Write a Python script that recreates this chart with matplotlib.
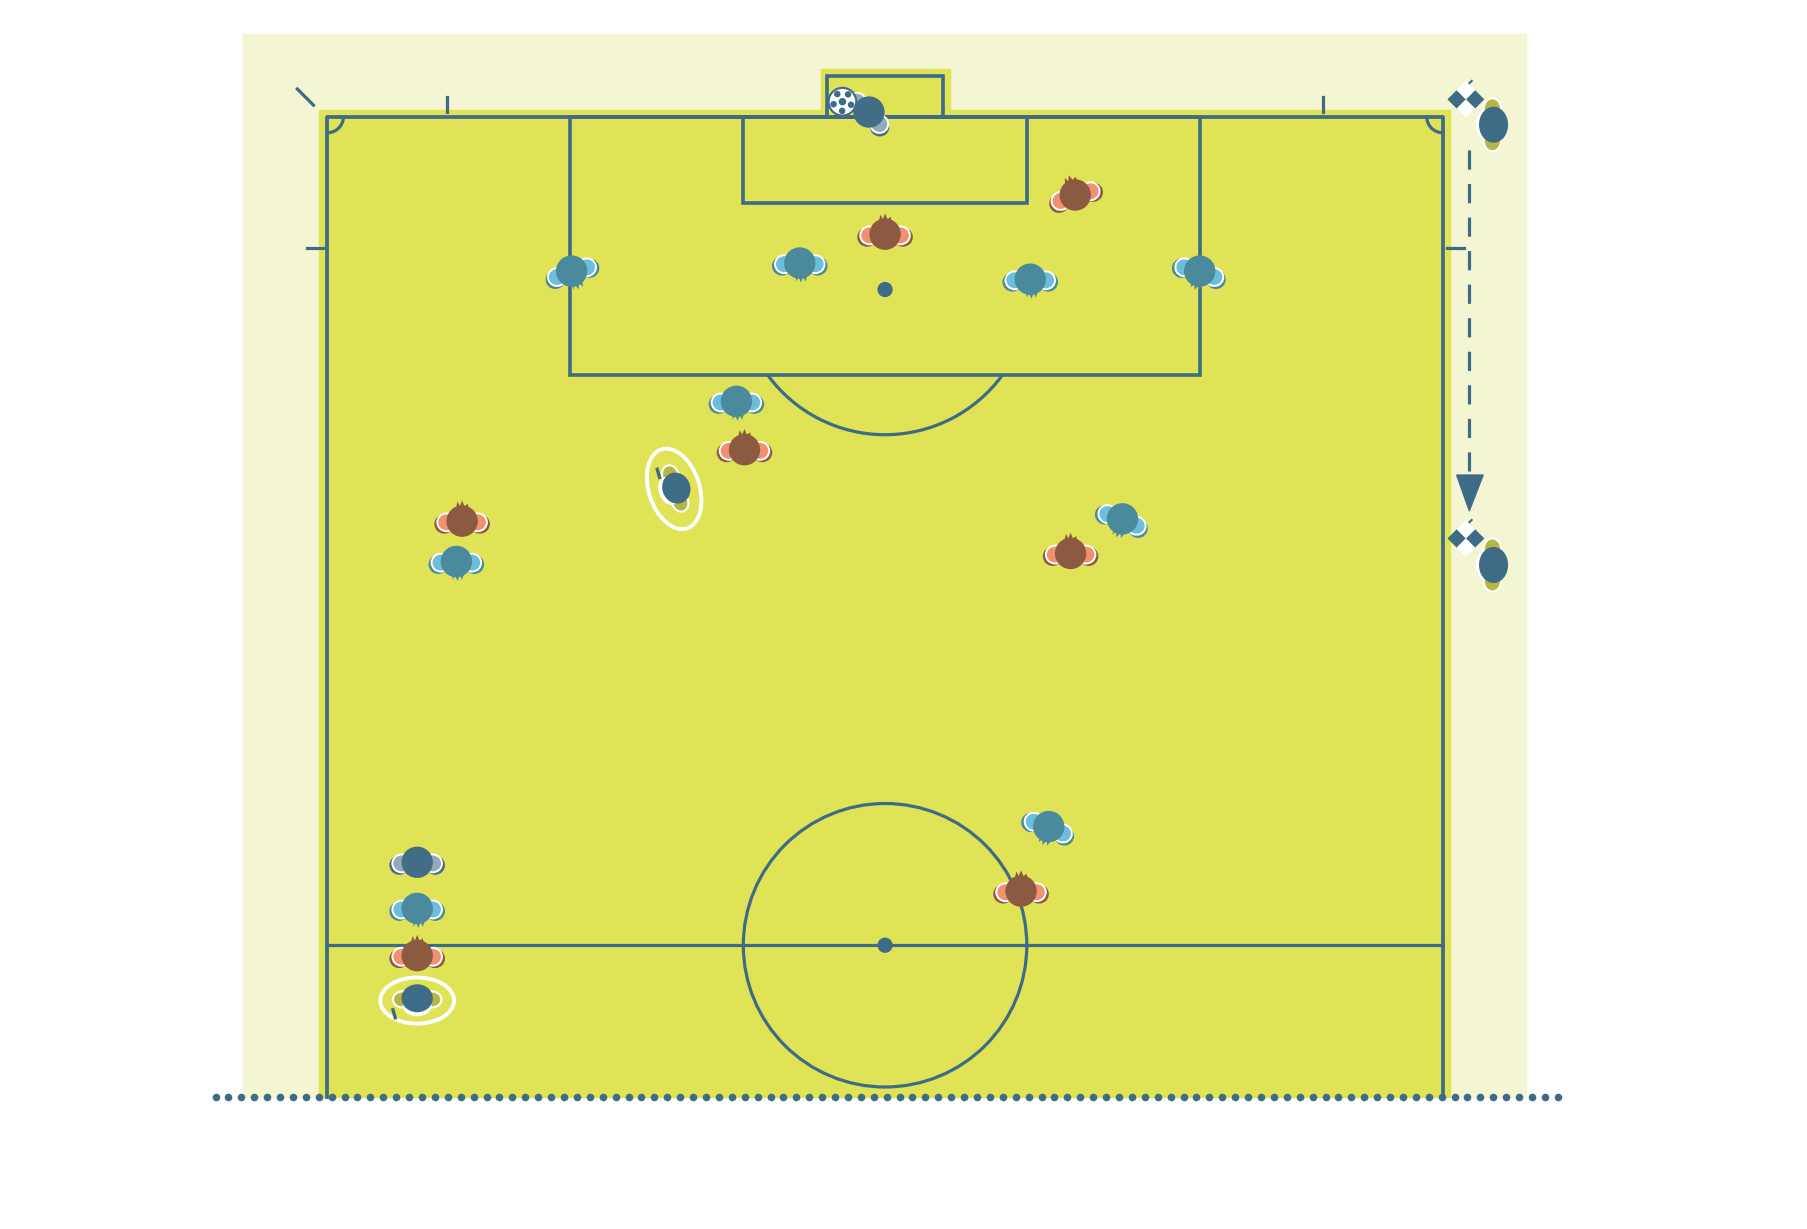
import numpy as np
import matplotlib
matplotlib.use("Agg")
import matplotlib.pyplot as plt
from matplotlib.patches import Rectangle, Circle, Ellipse, Arc, Polygon

# canvas units (image is 1568 x 1066 in these units, y grows downwards)
W, H = 1568, 1066

# colours
bg_light = "#f3f5d3"
grass = "#e0e356"
line_c = "#3e6b86"
blue_head, blue_sh = "#4a8a9c", "#6cbedb"
brown_head, brown_sh = "#8b5a41", "#f1916f"
gk_head, gk_sh = "#436d86", "#93aabb"
ref_sh = "#b5b646"

# pitch geometry
outer_area = (211, 29, 1324, 952)
grass_area = (277, 95, 1258, 952)
goal_grass = (712, 60, 824, 100)
touch_x = [284, 1252]
goal_line_y = 101
bottom_y = 952
halfway_y = 820
centre = (768, 820)
circle_r = 123
pen_box = (495, 101, 1041, 325)
goal_box = (645, 101, 891, 176)
goal_frame = (718, 66, 818, 101)
pen_spot = (768, 251)

# players: x, y, tilt in degrees
blue_x = [496, 694, 894, 1041, 639, 974, 396, 910, 362]
blue_y = [235, 228, 242, 235, 348, 450, 487, 717, 788]
blue_tilt = [-18, 0, 0, 18, 0, 22, 0, 22, 0]

brown_x = [933, 768, 646, 401, 929, 886, 362]
brown_y = [169, 203, 390, 452, 480, 773, 829]
brown_tilt = [-18, 0, 0, 0, 0, 0, 0]

gk_x = [754, 362]
gk_y = [97, 748]
gk_tilt = [45, 0]

ref_x = [585, 362, 1294, 1294]
ref_y = [424, 868, 108, 490]
ref_tilt = [70, 0, 90, 90]
ref_ring = [True, True, False, False]

flag_x = [1272, 1272]
flag_y = [86, 467]
ball = (731, 88)

fig = plt.figure(figsize=(18.07, 12.29), dpi=100)
ax = fig.add_axes([0, 0, 1, 1])
ax.set_xlim(0, W)
ax.set_ylim(H, 0)
ax.set_aspect("equal")
ax.axis("off")


def rect(box, **kw):
    x0, y0, x1, y1 = box
    return Rectangle((x0, y0), x1 - x0, y1 - y0, **kw)


def rot(x, y, dx, dy, a):
    t = np.radians(a)
    return x + dx * np.cos(t) - dy * np.sin(t), y + dx * np.sin(t) + dy * np.cos(t)


lw = 2.3
ax.add_patch(rect(outer_area, color=bg_light, zorder=0))
ax.add_patch(rect(grass_area, color=grass, zorder=1))
ax.add_patch(rect(goal_grass, color=grass, zorder=1))

# pitch markings
ax.plot([touch_x[0], touch_x[0], touch_x[1], touch_x[1]],
        [bottom_y, goal_line_y, goal_line_y, bottom_y], color=line_c, lw=lw + 0.4, zorder=2)
ax.plot(touch_x, [halfway_y, halfway_y], color=line_c, lw=lw, zorder=2)
for box in [pen_box, goal_box, goal_frame]:
    ax.add_patch(rect(box, fill=False, ec=line_c, lw=lw + 0.3, zorder=2))
ax.add_patch(Circle(centre, circle_r, fill=False, ec=line_c, lw=lw, zorder=2))
ax.add_patch(Circle(centre, 6, color=line_c, zorder=2))
ax.add_patch(Circle(pen_spot, 6, color=line_c, zorder=2))
ax.add_patch(Arc(pen_spot, 2 * 126, 2 * 126, theta1=36, theta2=144, color=line_c, lw=lw, zorder=2))
ax.add_patch(Arc((touch_x[0], goal_line_y), 28, 28, theta1=0, theta2=90, color=line_c, lw=lw, zorder=2))
ax.add_patch(Arc((touch_x[1], goal_line_y), 28, 28, theta1=90, theta2=180, color=line_c, lw=lw, zorder=2))

# small marks outside the pitch
ax.plot([388, 388], [84, 97], color=line_c, lw=lw, zorder=2)
ax.plot([1148, 1148], [84, 97], color=line_c, lw=lw, zorder=2)
ax.plot([266, 280], [215, 215], color=line_c, lw=lw, zorder=2)
ax.plot([1256, 1270], [215, 215], color=line_c, lw=lw, zorder=2)
ax.plot([258, 272], [77, 91], color=line_c, lw=lw, zorder=2)

# dotted line along the bottom
dots = np.arange(187, 1352, 11.2)
ax.scatter(dots, np.full(len(dots), bottom_y), s=30, color=line_c, lw=0, zorder=3)

# assistant referee run
ax.plot([1275, 1275], [130, 412], color=line_c, lw=lw, ls=(0, (6, 4.5)), zorder=2)
ax.add_patch(Polygon([(1264, 412), (1287, 412), (1275, 443)], color=line_c, zorder=2))

# corner-style flags
for fx, fy in zip(flag_x, flag_y):
    ax.plot([fx + 1, fx + 5], [fy - 12, fy - 16], color=line_c, lw=1.5, zorder=3)
    for cx, cy, c in [(-8, 0, line_c), (8, 0, line_c), (0, -8, "white"), (0, 8, "white")]:
        ax.add_patch(Polygon([(fx + cx - 8, fy + cy), (fx + cx, fy + cy - 8),
                              (fx + cx + 8, fy + cy), (fx + cx, fy + cy + 8)], color=c, lw=0, zorder=3))


def player(x, y, tilt, head, sh, hair=None, head_r=13):
    for side in [-1, 1]:
        sx, sy = rot(x, y, side * 13.5, 1, tilt)
        shx, shy = rot(x, y, side * 15.5, 2.5, tilt)
        ax.add_patch(Ellipse((shx, shy), 16, 15.5, angle=tilt, color=head, zorder=4))
        ax.add_patch(Ellipse((sx, sy), 16, 15.5, angle=tilt, fc=sh, ec="white", lw=1.4, zorder=5))
    ax.add_patch(Circle((x, y), head_r, color=head, zorder=6))
    if hair == "back":
        pts = [(-4, 9), (-3, 16), (-1, 12), (1, 17), (3, 12), (5, 16), (7, 9)]
    elif hair == "front":
        pts = [(-6, -9), (-4, -17), (-2, -13), (0, -18), (2, -13), (5, -15), (6, -9)]
    else:
        return
    ax.add_patch(Polygon([rot(x, y, dx, dy, tilt) for dx, dy in pts], color=head, lw=0, zorder=6))


for x, y, t in zip(blue_x, blue_y, blue_tilt):
    player(x, y, t, blue_head, blue_sh, hair="back")
for x, y, t in zip(brown_x, brown_y, brown_tilt):
    player(x, y, t, brown_head, brown_sh, hair="front")
for x, y, t in zip(gk_x, gk_y, gk_tilt):
    player(x, y, t, gk_head, gk_sh)

# referees
for x, y, t, ring in zip(ref_x, ref_y, ref_tilt, ref_ring):
    big = not ring
    for side in [-1, 1]:
        sx, sy = rot(x, y, side * (14 if big else 12.5), -1, t)
        ax.add_patch(Ellipse((sx, sy), 18 if big else 17, 15 if big else 14, angle=t,
                             fc=ref_sh, ec="white", lw=1.5, zorder=5))
    wx, wy = rot(x, y, 0, 5, t)
    ax.add_patch(Ellipse((wx, wy), 24, 16, angle=t, color="white", zorder=5))
    hx, hy = rot(x, y, 0, -2, t)
    ax.add_patch(Ellipse((hx, hy), 30 if big else 26, 24 if big else 23, angle=t, color=line_c, zorder=6))
    if ring:
        ax.add_patch(Ellipse((x, y), 64 if t == 0 else 44, 40 if t == 0 else 72,
                             angle=-18 if t != 0 else 0, fill=False, ec="white", lw=2.8, zorder=3))
        kx, ky = rot(x, y, -21, 8, t)
        ax.plot([kx, kx + 2], [ky, ky + 7], color=line_c, lw=2.4, zorder=6)

# ball
ax.add_patch(Circle(ball, 12, fc="white", ec=line_c, lw=1.5, zorder=7))
for a in np.arange(0, 360, 72):
    px, py = rot(ball[0], ball[1], 8, 0, a + 20)
    ax.add_patch(Circle((px, py), 2.2, color=line_c, zorder=8))
ax.add_patch(Circle(ball, 2.6, color=line_c, zorder=8))

fig.savefig("out.png", dpi=100, facecolor="white")
